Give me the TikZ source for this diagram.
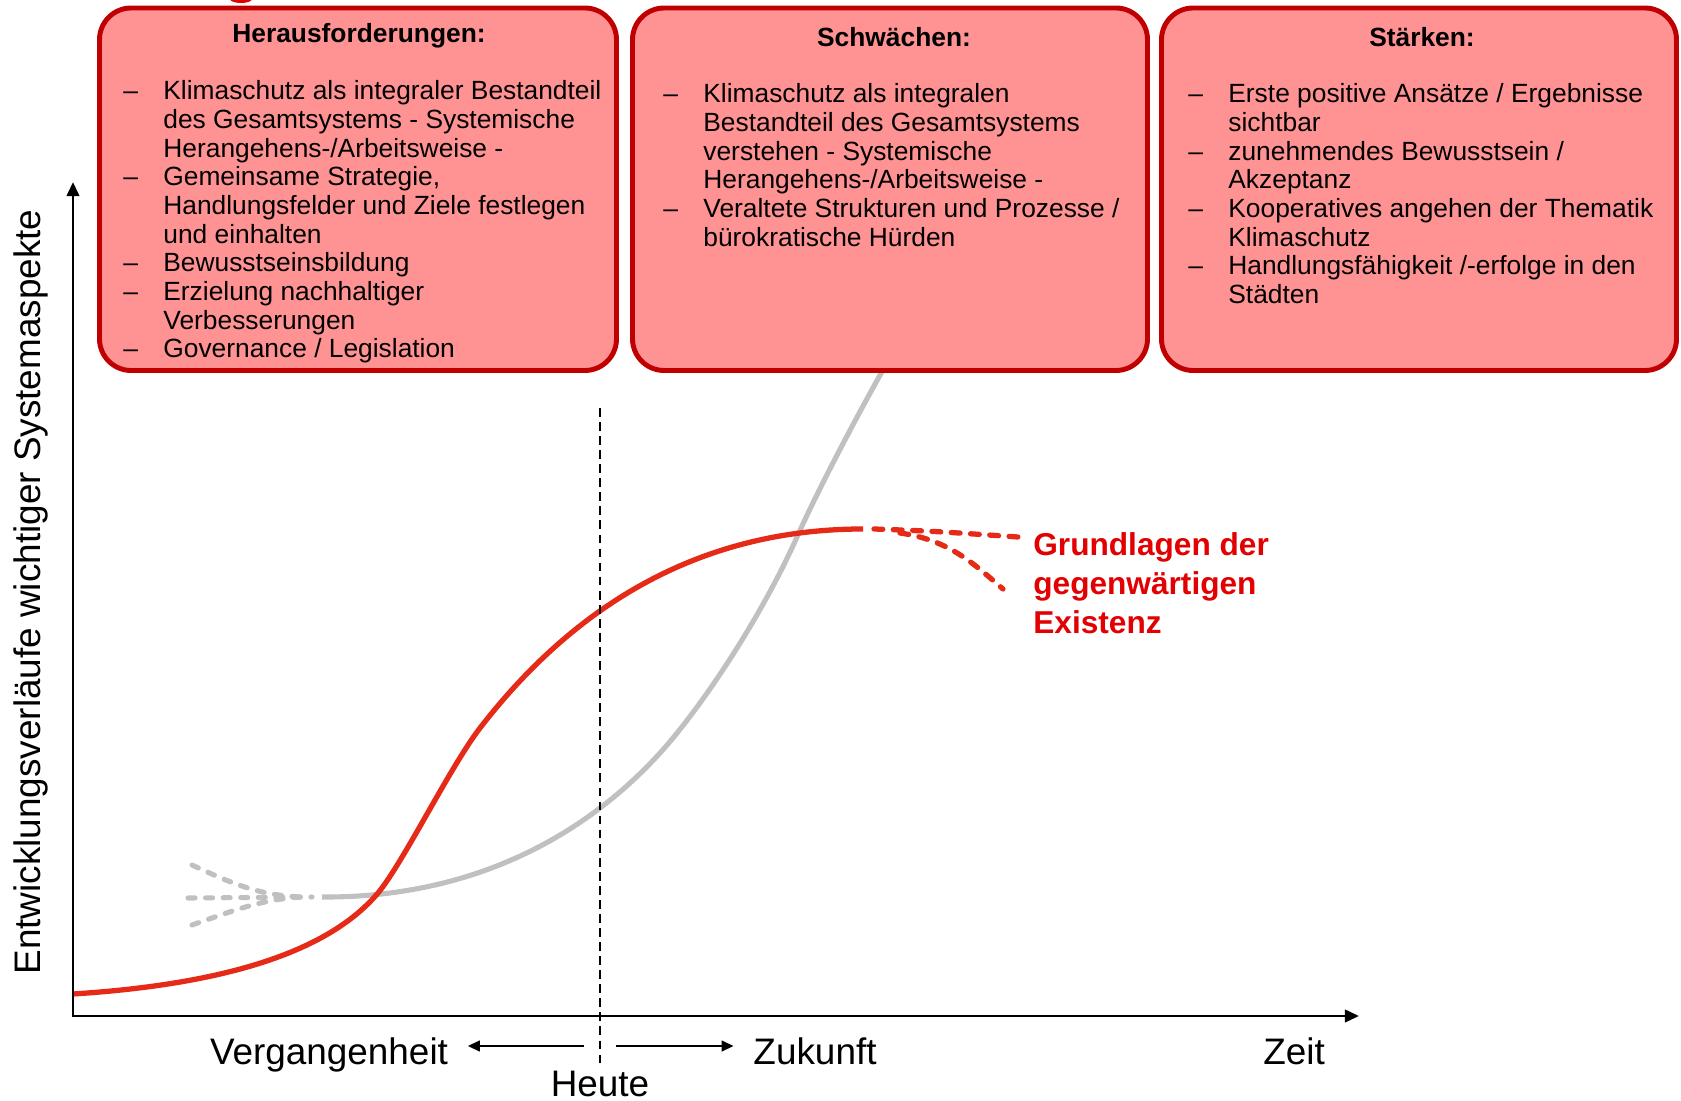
\documentclass[tikz,border=0pt]{standalone}
\usepackage{fontspec}
\setmainfont{Liberation Sans}
\usetikzlibrary{arrows.meta,fit}
\definecolor{swfill}{HTML}{FF9393}
\definecolor{swborder}{HTML}{C00000}
\definecolor{swcurve}{HTML}{E52A17}
\definecolor{swlabel}{HTML}{E30000}
\definecolor{swgray}{HTML}{C0C0C0}
\tikzstyle{swbox}=[draw=swborder,fill=swfill,line width=2.8pt,rounded corners=18pt,inner sep=0pt]
\tikzstyle{swtitle}=[font=\fontsize{15}{16.3}\selectfont\bfseries,anchor=base,inner sep=0pt]
\tikzstyle{swlist}=[font=\fontsize{15}{16.3}\selectfont,anchor=base west,inner sep=0pt]
\tikzstyle{swaxis}=[{Triangle[length=8pt,width=7pt]}-{Triangle[length=8pt,width=7pt]},line width=1.7pt]
\tikzstyle{swarrow}=[-{Triangle[length=7pt,width=6pt]},line width=1.6pt]
\tikzstyle{swaxtext}=[font=\fontsize{21}{25}\selectfont]
\tikzstyle{swred}=[draw=swcurve,line width=3pt]
\tikzstyle{swgrey}=[draw=swgray,line width=2.9pt]
\tikzstyle{swreddash}=[swred,dash pattern=on 5pt off 6pt,line cap=round]
\tikzstyle{swgreydash}=[swgrey,dash pattern=on 4pt off 6pt,line cap=round]
\newcommand{\switems}[1]{\begin{tabular}[t]{@{}p{22.8pt}@{}l@{}}#1\end{tabular}}

\begin{document}
\begin{tikzpicture}[x=0.02cm,y=-0.02cm]
    \useasboundingbox (0,0) rectangle (1681,1101);

    % ---- curves ----
    \draw[swgrey] (322,897) .. controls (480,898) and (590,830) .. (660,753)
      .. controls (700,709) and (760,620) .. (797,537)
      .. controls (820,485) and (880,370) .. (930,290);
    \draw[swgreydash] (192,865) .. controls (235,885) and (260,895) .. (300,897);
    \draw[swgreydash] (188,898) -- (312,897);
    \draw[swgreydash] (192,925) .. controls (235,910) and (260,900) .. (300,897);

    \draw[swred] (73,994) .. controls (230,984) and (330,950) .. (378,893)
      .. controls (403,863) and (450,767) .. (480,728)
      .. controls (575,605) and (700,529) .. (863,529);
    \draw[swreddash] (874,529) .. controls (930,531) .. (1018,537);
    \draw[swreddash] (900,533) .. controls (950,540) and (975,565) .. (1003,589);
    \node[font=\fontsize{18}{22}\selectfont\bfseries,text=swlabel,anchor=base west,inner sep=0pt]
      (grund) at (1033,556) {\begin{tabular}[t]{@{}l@{}}Grundlagen der\\gegenwärtigen\\Existenz\end{tabular}};

    % ---- axes ----
    \coordinate (origin) at (73,1016);
    \coordinate (ytip) at (73,182);
    \coordinate (xtip) at (1359,1016);
    \draw[swaxis] (ytip) -- (origin) -- (xtip);
    \node[swaxtext,rotate=90] (ylab) at (31,592) {Entwicklungsverläufe wichtiger Systemaspekte};

    % ---- heute ----
    \node[swaxtext,anchor=base,inner ysep=1pt] (heute) at (600,1096) {Heute};
    \coordinate (htop) at (600,408);
    \draw[line width=1.3pt,dash pattern=on 5pt off 3pt] (htop) -- (heute.north);
    \node[swaxtext,anchor=base,inner xsep=11pt] (verg) at (329,1064) {Vergangenheit};
    \node[swaxtext,anchor=base,inner xsep=11pt] (zuk) at (815,1064) {Zukunft};
    \node[swaxtext,anchor=base] (zeit) at (1294,1064) {Zeit};
    \coordinate (hl) at (584,1046);
    \coordinate (hr) at (616,1046);
    \draw[swarrow] (hl) -- (hl -| verg.east);
    \draw[swarrow] (hr) -- (hr -| zuk.west);

    % ---- boxes ----
    \fill[swlabel] (241,-1) ellipse (11 and 4);
    \node[swbox,fit={(99.5,8) (616.5,370.5)}] (hbox) {};
    \node[swbox,fit={(632.5,8) (1147.5,370.5)}] (sbox) {};
    \node[swbox,fit={(1161.5,8) (1676.5,370.5)}] (stbox) {};

    \node[swtitle] (htitle) at (359,42.5) {Herausforderungen:};
    \node[swtitle] (stitle) at (894,47) {Schwächen:};
    \node[swtitle] (sttitle) at (1422,47) {Stärken:};

    \node[swlist] (hlist) at (123,100) {\switems{
      – & Klimaschutz als integraler Bestandteil\\
        & des Gesamtsystems - Systemische\\
        & Herangehens-/Arbeitsweise -\\
      – & Gemeinsame Strategie,\\
        & Handlungsfelder und Ziele festlegen\\
        & und einhalten\\
      – & Bewusstseinsbildung\\
      – & Erzielung nachhaltiger\\
        & Verbesserungen\\
      – & Governance / Legislation}};
    \node[swlist] (slist) at (663,103) {\switems{
      – & Klimaschutz als integralen\\
        & Bestandteil des Gesamtsystems\\
        & verstehen - Systemische\\
        & Herangehens-/Arbeitsweise -\\
      – & Veraltete Strukturen und Prozesse /\\
        & bürokratische Hürden}};
    \node[swlist] (stlist) at (1188,103) {\switems{
      – & Erste positive Ansätze / Ergebnisse\\
        & sichtbar\\
      – & zunehmendes Bewusstsein /\\
        & Akzeptanz\\
      – & Kooperatives angehen der Thematik\\
        & Klimaschutz\\
      – & Handlungsfähigkeit /-erfolge in den\\
        & Städten}};
\end{tikzpicture}
\end{document}
